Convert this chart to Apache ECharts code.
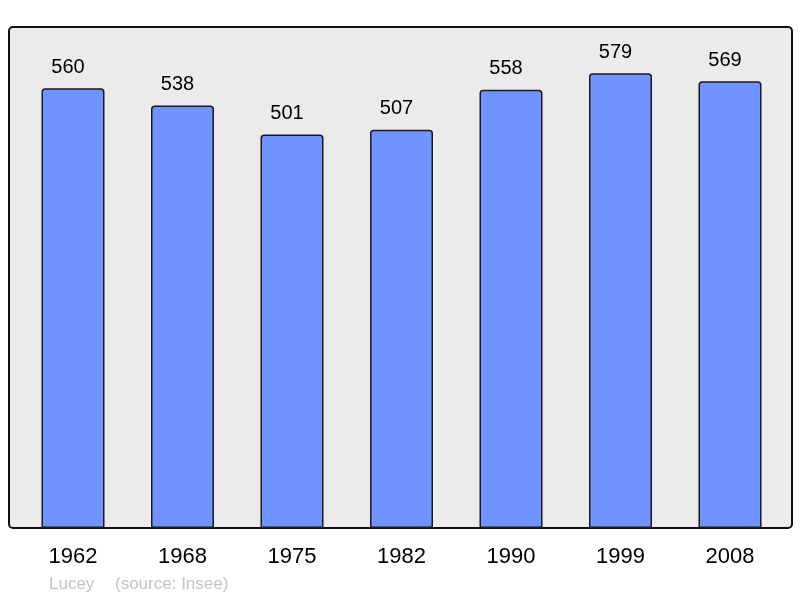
<!DOCTYPE html>
<html>
<head>
<meta charset="utf-8">
<script src="https://cdn.jsdelivr.net/npm/echarts@6/dist/echarts.min.js"></script>
<style>html,body{margin:0;padding:0;background:#fff}#c{width:800px;height:598px}</style>
</head>
<body>
<div id="c"></div>
<script>
const years = ['1962', '1968', '1975', '1982', '1990', '1999', '2008'];
const population = [560, 538, 501, 507, 558, 579, 569];
const footerName = 'Lucey';
const footerSource = '(source: Insee)';

const FONT = '"Liberation Sans", Arial, sans-serif';
const chart = echarts.init(document.getElementById('c'), null, {renderer: 'canvas'});
chart.setOption({
  animation: false,
  backgroundColor: '#ffffff',
  textStyle: {fontFamily: FONT},
  graphic: [
    {type: 'rect', z: -10, shape: {x: 9, y: 27, width: 783, height: 501, r: 4},
     style: {fill: '#ebebeb', stroke: '#111', lineWidth: 2}},
    {type: 'text', left: 49, top: 576, style: {text: footerName, fill: '#c4c4c4', fontSize: 17, fontFamily: FONT}},
    {type: 'text', left: 115, top: 576, style: {text: footerSource, fill: '#c4c4c4', fontSize: 17, fontFamily: FONT}}
  ],
  grid: {left: 18.25, width: 766.5, top: 27, bottom: 70, containLabel: false},
  xAxis: {
    type: 'category', data: years,
    axisLine: {show: false}, axisTick: {show: false},
    axisLabel: {color: '#000', fontSize: 22, margin: 18}
  },
  yAxis: {
    type: 'value', min: 0, max: 638,
    show: false, splitLine: {show: false}
  },
  series: [{
    type: 'bar', data: population, barWidth: 63,
    itemStyle: {color: '#7094ff', borderColor: '#1a1a1a', borderWidth: 1.5, borderRadius: [3, 3, 0, 0]},
    label: {show: true, position: 'top', distance: 11, offset: [-5, 0], color: '#000', fontSize: 20}
  }]
});
</script>
</body>
</html>
